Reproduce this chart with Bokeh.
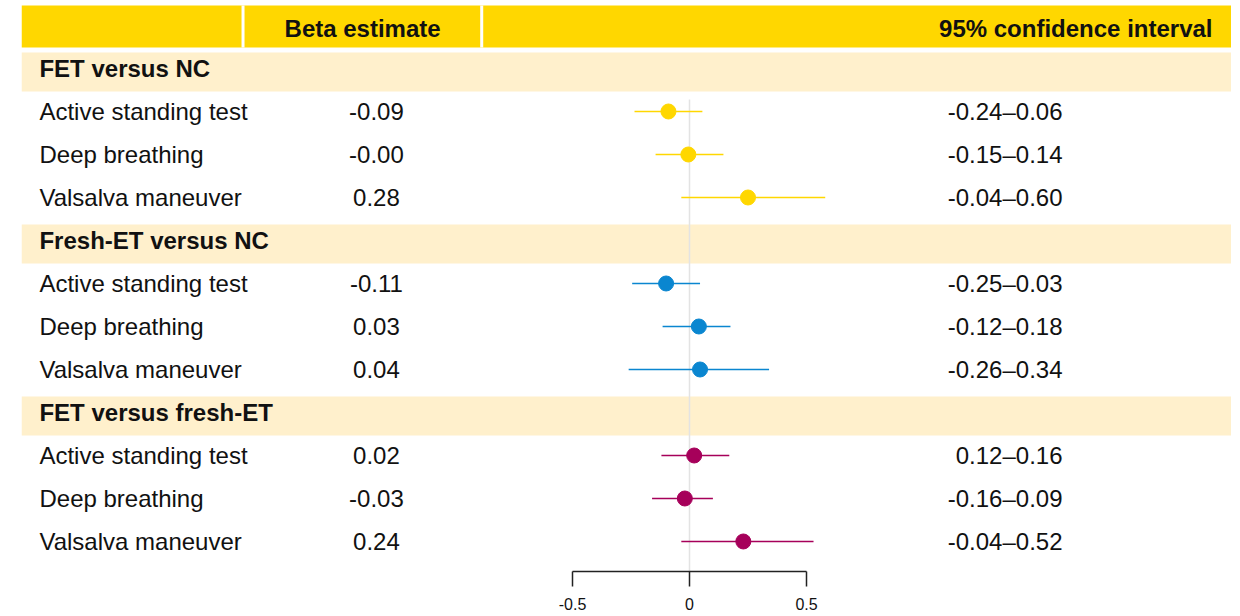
from bokeh.plotting import figure
from bokeh.models import Range1d, FixedTicker, ColumnDataSource, CustomJSTickFormatter
from bokeh.core.properties import value
from bokeh.embed import file_html
from bokeh.resources import INLINE

# ---------------- data ----------------
groups = ["FET versus NC", "Fresh-ET versus NC", "FET versus fresh-ET"]
tests = ["Active standing test", "Deep breathing", "Valsalva maneuver"]
beta_text = ["-0.09", "-0.00", "0.28", "-0.11", "0.03", "0.04", "0.02", "-0.03", "0.24"]
ci_text = ["-0.24\u20130.06", "-0.15\u20130.14", "-0.04\u20130.60",
           "-0.25\u20130.03", "-0.12\u20130.18", "-0.26\u20130.34",
           "0.12\u20130.16", "-0.16\u20130.09", "-0.04\u20130.52"]
beta = [-0.09, -0.005, 0.25, -0.10, 0.04, 0.045, 0.02, -0.02, 0.23]
lower = [-0.235, -0.145, -0.035, -0.245, -0.115, -0.26, -0.12, -0.16, -0.035]
upper = [0.055, 0.145, 0.58, 0.045, 0.175, 0.34, 0.17, 0.10, 0.53]
group_colors = ["#FFD700", "#0A86D0", "#A6005A"]
tick_values = [-0.5, 0, 0.5]
header_beta = "Beta estimate"
header_ci = "95% confidence interval"

# ---------------- layout ----------------
X_MIN, X_MAX = -2.8547, 2.3162
Y_TOP, Y_BOT = -1.465, 11.698
LABEL_X = -2.778
BETA_X = -1.338
CI_X = 1.594
HDR_BETA_X = -1.397
HDR_CI_X = 2.235
SEP_X = [-1.908, -0.888]
FONT = value("Liberation Sans")
FS = value("24px")
HEADER_BG = "#FFD700"
BAND_BG = "#FFF0CC"

n_groups = len(groups)
grp_rows = [4 * g for g in range(n_groups)]
item_rows, item_colors, item_labels = [], [], []
for g in range(n_groups):
    for k, t in enumerate(tests):
        item_rows.append(4 * g + 1 + k)
        item_colors.append(group_colors[g])
        item_labels.append(t)

src = ColumnDataSource(dict(y=item_rows, beta=beta, lo=lower, hi=upper,
                            color=item_colors, label=item_labels,
                            btxt=beta_text, citxt=ci_text))

p = figure(frame_width=1210, frame_height=566,
           x_range=Range1d(X_MIN, X_MAX), y_range=Range1d(Y_BOT, Y_TOP),
           output_backend="svg", toolbar_location=None,
           y_axis_location=None, x_axis_location="below",
           min_border_left=21, min_border_right=0, min_border_top=5, min_border_bottom=0)
p.outline_line_color = None
p.xgrid.visible = False
p.ygrid.visible = False
p.background_fill_color = "white"
p.border_fill_color = "white"

# header bar
p.quad(left=[X_MIN], right=[X_MAX], top=[-1.6], bottom=[-0.488],
       fill_color=HEADER_BG, line_color=None)
p.segment(x0=SEP_X, x1=SEP_X, y0=[-1.6, -1.6], y1=[-0.488, -0.488],
          line_color="white", line_width=3)
p.text(x=[HDR_BETA_X], y=[-0.93], text=[header_beta], text_font=FONT,
       text_font_size=FS, text_font_style="bold",
       text_align="center", text_baseline="middle", text_color="#111111")
p.text(x=[HDR_CI_X], y=[-0.93], text=[header_ci], text_font=FONT,
       text_font_size=FS, text_font_style="bold",
       text_align="right", text_baseline="middle", text_color="#111111")

# group bands
p.quad(left=[X_MIN] * n_groups, right=[X_MAX] * n_groups,
       top=[r - 0.372 for r in grp_rows], bottom=[r + 0.535 for r in grp_rows],
       fill_color=BAND_BG, line_color=None)
p.text(x=[LABEL_X] * n_groups, y=grp_rows, text=groups, text_font=FONT,
       text_font_size=FS, text_font_style="bold",
       text_align="left", text_baseline="middle", text_color="#111111")

# zero reference line
p.segment(x0=[0], x1=[0], y0=[0.72], y1=[Y_BOT], line_color="#E3E3E3", line_width=1.5)

# row texts
p.text(x=LABEL_X, y="y", text="label", source=src, text_font=FONT,
       text_font_size=FS, text_align="left", text_baseline="middle",
       text_color="#111111")
p.text(x=BETA_X, y="y", text="btxt", source=src, text_font=FONT,
       text_font_size=FS, text_align="center", text_baseline="middle",
       text_color="#111111")
p.text(x=CI_X, y="y", text="citxt", source=src, text_font=FONT,
       text_font_size=FS, text_align="right", text_baseline="middle",
       text_color="#111111")

# CIs and points
p.segment(x0="lo", x1="hi", y0="y", y1="y", source=src, line_color="color", line_width=1.3)
p.scatter(x="beta", y="y", source=src, size=15, fill_color="color", line_color="color")

# axis
ax = p.xaxis[0]
ax.ticker = FixedTicker(ticks=tick_values)
ax.bounds = (min(tick_values), max(tick_values))
ax.formatter = CustomJSTickFormatter(code="return tick.toString();")
ax.major_tick_in = 0
ax.major_tick_out = 15
ax.minor_tick_line_color = None
ax.axis_line_color = "#222222"
ax.major_tick_line_color = "#222222"
ax.axis_line_width = 1.5
ax.major_tick_line_width = 1.5
ax.major_label_text_font = "Liberation Sans"
ax.major_label_text_font_size = "16px"
ax.major_label_text_color = "#111111"
ax.major_label_standoff = 11

open("out.html", "w", encoding="utf-8").write(file_html(p, INLINE))
